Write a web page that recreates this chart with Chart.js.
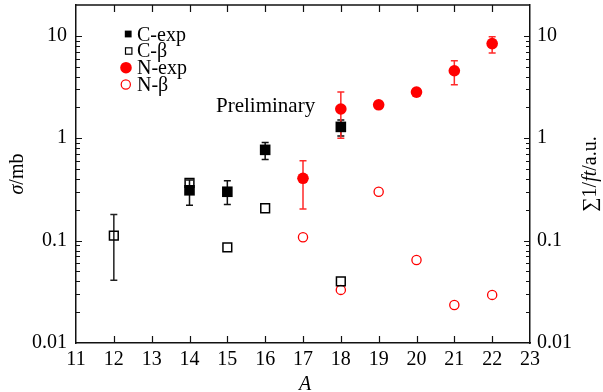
<!DOCTYPE html>
<html><head><meta charset="utf-8">
<script src="https://cdn.jsdelivr.net/npm/chart.js@4/dist/chart.umd.min.js"></script>
<style>html,body{margin:0;padding:0;background:#fff}#wrap{width:603px;height:392px}</style>
</head><body><div id="wrap"><canvas id="c" width="603" height="392"></canvas></div>
<script>
// ---- data ----
const xTickValues = [11,12,13,14,15,16,17,18,19,20,21,22,23];
const yTickValues = [0.01, 0.1, 1, 10];
const seriesNames = ['C-exp', 'C-β', 'N-exp', 'N-β'];

const cExpA   = [14, 15, 16, 18];
const cExpVal = [0.31, 0.30, 0.77, 1.29];
const cExpLo  = [0.222, 0.225, 0.62, 1.05];
const cExpHi  = [0.39, 0.385, 0.91, 1.51];

const cBetaA   = [12, 14, 15, 16, 18];
const cBetaVal = [0.112, 0.366, 0.086, 0.207, 0.040];
const cBetaLo  = [0.041, null, null, null, null];
const cBetaHi  = [0.18, null, null, null, null];

const nExpA   = [17, 18, 19, 20, 21, 22];
const nExpVal = [0.406, 1.93, 2.12, 2.82, 4.56, 8.4];
const nExpLo  = [0.203, 1.0, null, null, 3.33, 6.8];
const nExpHi  = [0.604, 2.82, null, null, 5.7, 9.8];

const nBetaA   = [17, 18, 19, 20, 21, 22];
const nBetaVal = [0.108, 0.033, 0.30, 0.0647, 0.0235, 0.0295];

const annotationText = 'Preliminary';
// ---------------

const SERIF = '"Liberation Serif","Times New Roman",serif';
const RED = '#ff0000';
Chart.defaults.font.family = SERIF;
Chart.defaults.color = '#000';
const pts = (xs, ys) => xs.map((x, i) => ({x: x, y: ys[i]}));

const datasets = [
  {label: seriesNames[0], data: pts(cExpA, cExpVal), errLo: cExpLo, errHi: cExpHi, errColor: '#111', legendColor: '#000',
   pointStyle: 'rect', pointRadius: 7.5, backgroundColor: '#000', borderColor: '#000', borderWidth: 0},
  {label: seriesNames[1], data: pts(cBetaA, cBetaVal), errLo: cBetaLo, errHi: cBetaHi, errColor: '#222', legendColor: '#000',
   pointStyle: 'rect', pointRadius: 6.2, backgroundColor: 'rgba(255,255,255,0)', borderColor: '#000', borderWidth: 1.5},
  {label: seriesNames[2], data: pts(nExpA, nExpVal), errLo: nExpLo, errHi: nExpHi, errColor: '#ff2a2a', legendColor: RED,
   pointStyle: 'circle', pointRadius: 5.8, backgroundColor: RED, borderColor: RED, borderWidth: 0},
  {label: seriesNames[3], data: pts(nBetaA, nBetaVal), legendColor: RED,
   pointStyle: 'circle', pointRadius: 4.6, backgroundColor: 'rgba(255,255,255,0)', borderColor: RED, borderWidth: 1.3}
];
datasets.forEach(d => { d.showLine = false; d.pointHoverRadius = d.pointRadius; });

function drawRich(ctx, segs, cx, cy, rot, align) {
  ctx.save();
  ctx.translate(cx, cy);
  ctx.rotate(rot);
  let total = 0;
  segs.forEach(s => { ctx.font = s.font; s.w = ctx.measureText(s.t).width; total += s.w; });
  let x = align === 'center' ? -total / 2 : 0;
  ctx.textBaseline = 'alphabetic';
  ctx.textAlign = 'left';
  ctx.fillStyle = '#000';
  segs.forEach(s => { ctx.font = s.font; ctx.fillText(s.t, x, 0); x += s.w; });
  ctx.restore();
}

const errorBars = {
  id: 'errorBars',
  beforeDatasetsDraw(chart) {
    const ctx = chart.ctx, xs = chart.scales.x, ys = chart.scales.y;
    chart.data.datasets.forEach(ds => {
      if (!ds.errLo) return;
      ctx.save();
      ctx.strokeStyle = ds.errColor;
      ctx.lineWidth = 1.5;
      ds.data.forEach((p, i) => {
        const lo = ds.errLo[i], hi = ds.errHi[i];
        if (lo == null || hi == null) return;
        const px = xs.getPixelForValue(p.x);
        const y1 = ys.getPixelForValue(lo), y2 = ys.getPixelForValue(hi);
        ctx.beginPath();
        ctx.moveTo(px, y1); ctx.lineTo(px, y2);
        ctx.moveTo(px - 3.5, y1); ctx.lineTo(px + 3.5, y1);
        ctx.moveTo(px - 3.5, y2); ctx.lineTo(px + 3.5, y2);
        ctx.stroke();
      });
      ctx.restore();
    });
  }
};

const decor = {
  id: 'decor',
  afterDraw(chart) {
    const ctx = chart.ctx, a = chart.chartArea, xs = chart.scales.x, ys = chart.scales.y;
    ctx.save();
    ctx.strokeStyle = '#111';
    ctx.lineWidth = 1.5;
    ctx.beginPath(); ctx.moveTo(a.left, a.top); ctx.lineTo(a.right, a.top); ctx.stroke();
    ctx.lineWidth = 1.2;
    ctx.beginPath();
    xTickValues.forEach(v => {
      const px = Math.round(xs.getPixelForValue(v)) + 0.5;
      if (px < a.left + 2 || px > a.right - 2) return;
      ctx.moveTo(px, a.bottom); ctx.lineTo(px, a.bottom - 7);
      ctx.moveTo(px, a.top); ctx.lineTo(px, a.top + 7);
    });
    for (let d = -2; d <= 1; d++) {
      for (let k = 1; k <= 9; k++) {
        const v = k * Math.pow(10, d);
        if (v < ys.min || v > ys.max) continue;
        const py = Math.round(ys.getPixelForValue(v)) + 0.5;
        const len = k === 1 ? 6 : 4;
        if (py > a.bottom - 1 || py < a.top + 1) continue;
        ctx.moveTo(a.left, py); ctx.lineTo(a.left + len, py);
        ctx.moveTo(a.right, py); ctx.lineTo(a.right - len, py);
      }
    }
    ctx.stroke();

    // legend
    const lx = 137;
    const rows = [40.5, 57.3, 74.2, 91];
    ctx.font = '20px ' + SERIF;
    ctx.textBaseline = 'alphabetic';
    ctx.textAlign = 'left';
    rows.forEach((by, i) => {
      const cy = by - 6.5;
      const ds = chart.data.datasets[i];
      ctx.save();
      if (i === 0) { ctx.fillStyle = ds.legendColor; ctx.fillRect(124.8, cy - 3.4, 6.8, 6.8); }
      else if (i === 1) { ctx.strokeStyle = ds.legendColor; ctx.lineWidth = 1.2; ctx.strokeRect(125.5, cy - 3, 6.4, 6.4); }
      else if (i === 2) { ctx.fillStyle = ds.legendColor; ctx.beginPath(); ctx.arc(126, cy, 5.8, 0, Math.PI * 2); ctx.fill(); }
      else { ctx.strokeStyle = ds.legendColor; ctx.lineWidth = 1.2; ctx.beginPath(); ctx.arc(125.8, cy, 4.6, 0, Math.PI * 2); ctx.stroke(); }
      ctx.restore();
      ctx.fillStyle = '#000';
      ctx.fillText(ds.label, lx, by);
    });

    ctx.fillStyle = '#000';
    ctx.font = '21px ' + SERIF;
    ctx.fillText(annotationText, 216, 111.5);

    const cyMid = (a.top + a.bottom) / 2;
    drawRich(ctx, [
      {t: 'σ', font: 'italic 20px ' + SERIF},
      {t: '/mb', font: '20px ' + SERIF}
    ], 23, cyMid, -Math.PI / 2, 'center');
    drawRich(ctx, [
      {t: '∑1/', font: '20px ' + SERIF},
      {t: 'ft', font: 'italic 20px ' + SERIF},
      {t: '/a.u.', font: '20px ' + SERIF}
    ], 596, cyMid, -Math.PI / 2, 'center');
    drawRich(ctx, [{t: 'A', font: 'italic 20px ' + SERIF}], (a.left + a.right) / 2 + 2, 390, 0, 'center');
    ctx.restore();
  }
};

const zeroPad = s => { s.paddingTop = 0; s.paddingBottom = 0; s.paddingLeft = 0; s.paddingRight = 0; };

const yScaleBase = (pos, width, pad) => ({
  type: 'logarithmic',
  position: pos,
  min: 0.01,
  max: 20,
  grid: {display: false, drawTicks: false},
  border: {display: true, color: '#111', width: 1.5},
  afterBuildTicks: s => { s.ticks = yTickValues.map(v => ({value: v})); },
  afterFit: s => { s.width = width; zeroPad(s); },
  ticks: {
    padding: pad,
    color: '#000',
    font: {family: SERIF, size: 20},
    callback: v => String(v)
  }
});

new Chart(document.getElementById('c'), {
  type: 'scatter',
  data: {datasets: datasets},
  options: {
    responsive: false,
    animation: false,
    devicePixelRatio: 1,
    layout: {autoPadding: false, padding: {top: 5, left: 0, right: 0, bottom: 0}},
    plugins: {legend: {display: false}, tooltip: {enabled: false}},
    scales: {
      x: {
        type: 'linear',
        position: 'bottom',
        min: 11, max: 23,
        grid: {display: false, drawTicks: false},
        border: {display: true, color: '#111', width: 1.5},
        afterBuildTicks: s => { s.ticks = xTickValues.map(v => ({value: v})); },
        afterFit: s => { s.height = 49; zeroPad(s); },
        ticks: {padding: 5, color: '#000', font: {family: SERIF, size: 20}, maxRotation: 0, autoSkip: false}
      },
      y: yScaleBase('left', 76, 9),
      y2: yScaleBase('right', 73, 7)
    }
  },
  plugins: [errorBars, decor]
});
</script>
</body></html>
